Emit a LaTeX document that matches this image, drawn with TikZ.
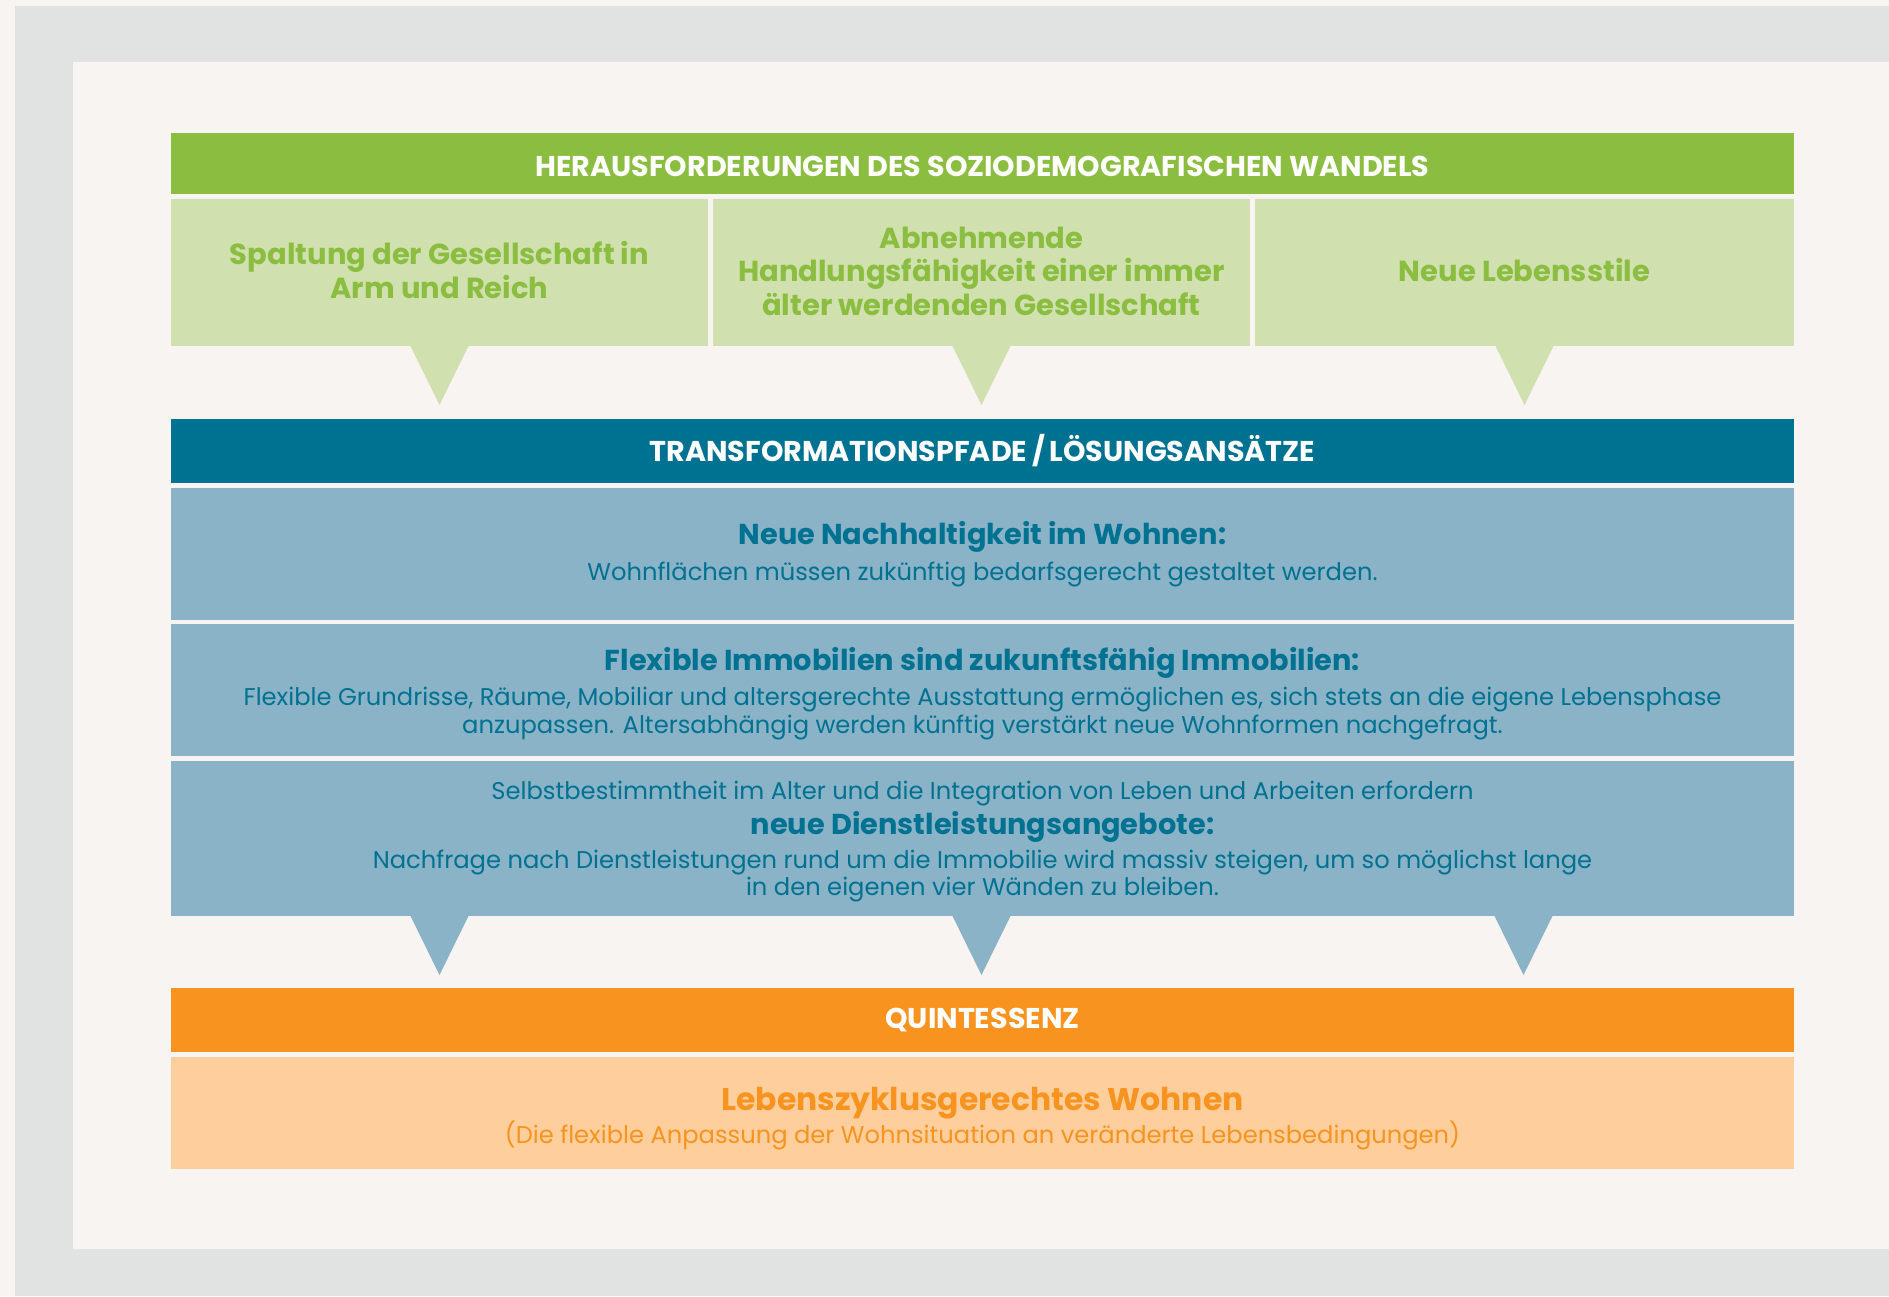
\documentclass[tikz,border=0pt]{standalone}
\usepackage{fontspec}
\setmainfont{Poppins}
\definecolor{pagebg}{HTML}{F7F4F1}
\definecolor{frame}{HTML}{E1E3E2}
\definecolor{green}{HTML}{8BBE40}
\definecolor{lgreen}{HTML}{D0E0AE}
\definecolor{teal}{HTML}{007291}
\definecolor{lblue}{HTML}{8AB3C8}
\definecolor{orange}{HTML}{F7931E}
\definecolor{lorange}{HTML}{FECF9D}
\tikzset{
  box/.style n args={2}{inner sep=0pt, outer sep=0pt, minimum width=#1*0.5pt, minimum height=#2*0.5pt},
  txt/.style={inner sep=0pt, align=center},
  headfont/.style={txt, font=\fontsize{14.3}{15}\selectfont\bfseries, text=white},
  colfont/.style={txt, font=\fontsize{14.5}{16.8}\selectfont\bfseries, text=green},
  bluefont/.style={txt, font=\fontsize{12.1}{13.8}\selectfont, text=teal},
  orfont/.style={txt, font=\fontsize{12.1}{13.8}\selectfont, text=orange},
}
\newcommand{\btitle}[1]{{\fontsize{14.4}{13.8}\selectfont\bfseries #1}}
\begin{document}
\begin{tikzpicture}[x=0.5pt,y=-0.5pt]
\useasboundingbox (0,0) rectangle (1889,1296);
\fill[pagebg] (0,0) rectangle (1889,1296);
\fill[frame] (15,6) rectangle (1889,1296);
\fill[pagebg] (73,62) rectangle (1889,1249);

% challenges
\node[box={1623}{61}, fill=green] (h1) at (982.5,163.5) {};
\node[headfont] (h1t) at ([yshift=-1.25pt]h1.center) {HERAUSFORDERUNGEN DES SOZIODEMOGRAFISCHEN WANDELS};
\node[box={537}{147}, fill=lgreen] (c1) at (439.5,272.5) {};
\node[box={537}{147}, fill=lgreen] (c2) at (981.5,272.5) {};
\node[box={539}{147}, fill=lgreen] (c3) at (1524.5,272.5) {};
\node[colfont] (c1t) at ([yshift=1.2pt]c1.center) {Spaltung der Gesellschaft in\\Arm und Reich};
\node[colfont] (c2t) at ([yshift=0.6pt]c2.center) {Abnehmende\\Handlungsfähigkeit einer immer\\älter werdenden Gesellschaft};
\node[colfont] (c3t) at ([yshift=1.2pt]c3.center) {Neue Lebensstile};
\foreach \n in {c1,c2,c3}
  \fill[lgreen] (\n.south) ++(-29.5,-1) -- ++(29.5,60) -- ++(29.5,-60) -- cycle;

% transformation
\node[box={1623}{64}, fill=teal] (h2) at (982.5,451) {};
\node[headfont] (h2t) at (h2.center) {TRANSFORMATIONSPFADE\,/\,LÖSUNGSANSÄTZE};
\node[box={1623}{132}, fill=lblue] (b1) at (982.5,554) {};
\node[bluefont] (b1t) at (b1.center) {\btitle{Neue Nachhaltigkeit im Wohnen:}\\[4.2pt]Wohnflächen müssen zukünftig bedarfsgerecht gestaltet werden.};
\node[box={1623}{132}, fill=lblue] (b2) at (982.5,690) {};
\node[bluefont] (b2t) at ([yshift=-2pt]b2.center) {\btitle{Flexible Immobilien sind zukunftsfähig Immobilien:}\\[3.7pt]Flexible Grundrisse, Räume, Mobiliar und altersgerechte Ausstattung ermöglichen es, sich stets an die eigene Lebensphase\\anzupassen. Altersabhängig werden künftig verstärkt neue Wohnformen nachgefragt.};
\node[box={1623}{155}, fill=lblue] (b3) at (982.5,838.5) {};
\node[bluefont] (b3t) at ([yshift=-1.5pt]b3.center) {Selbstbestimmtheit im Alter und die Integration von Leben und Arbeiten erfordern\\[1.9pt]\btitle{neue Dienstleistungsangebote:}\\[3.1pt]Nachfrage nach Dienstleistungen rund um die Immobilie wird massiv steigen, um so möglichst lange\\in den eigenen vier Wänden zu bleiben.};
\coordinate (t1) at (439.5,916);
\coordinate (t2) at (981.5,916);
\coordinate (t3) at (1523.5,916);
\foreach \n in {t1,t2,t3}
  \fill[lblue] (\n) ++(-29.5,-1) -- ++(29.5,60) -- ++(29.5,-60) -- cycle;

% quintessence
\node[box={1623}{64}, fill=orange] (h3) at (982.5,1020) {};
\node[headfont] (h3t) at (h3.center) {QUINTESSENZ};
\node[box={1623}{112}, fill=lorange] (q) at (982.5,1113) {};
\node[orfont] (qt) at ([yshift=-2.7pt]q.center) {{\fontsize{15.7}{13.8}\selectfont\bfseries Lebenszyklusgerechtes Wohnen}\\[0pt](Die flexible Anpassung der Wohnsituation an veränderte Lebensbedingungen)};
\end{tikzpicture}
\end{document}
